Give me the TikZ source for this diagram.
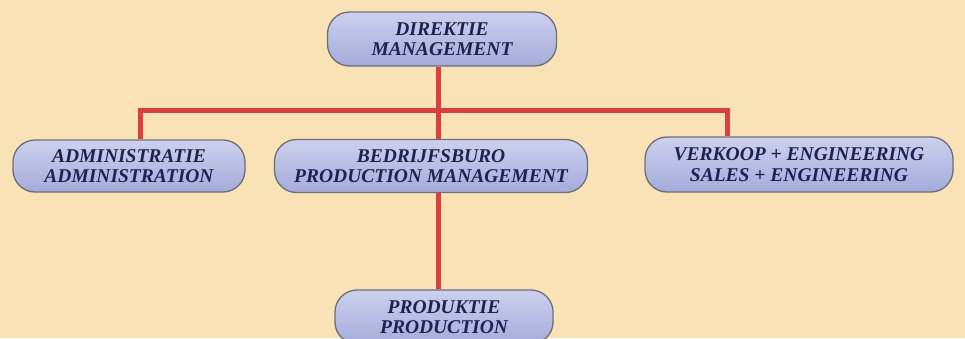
\documentclass[tikz,border=0pt]{standalone}
\usepackage{fontspec}
\setmainfont{Liberation Serif}
\usetikzlibrary{backgrounds}
\definecolor{bgc}{HTML}{F9E3B6}
\definecolor{boxtop}{HTML}{CDD1EE}
\definecolor{boxbot}{HTML}{A3ABD9}
\definecolor{boxline}{HTML}{6E6E78}
\definecolor{txt}{HTML}{1E2250}
\definecolor{redl}{HTML}{D9403F}
\tikzset{
  orgbox/.style={draw=boxline, line width=1.3pt, rounded corners=22pt,
    top color=boxtop, bottom color=boxbot, text=txt, align=center,
    inner sep=0pt, font=\fontsize{19.5}{20.5}\selectfont\bfseries\itshape},
  redline/.style={draw=redl, line width=5pt}
}
\begin{document}
\begin{tikzpicture}[x=1pt,y=-1pt]
\useasboundingbox (0,0) rectangle (965,338);
\node[orgbox, minimum width=229pt, minimum height=54pt] (dir) at (442,39) {DIREKTIE\\MANAGEMENT};
\node[orgbox, minimum width=232pt, minimum height=52pt] (adm) at (129,166) {ADMINISTRATIE\\ADMINISTRATION};
\node[orgbox, minimum width=313pt, minimum height=53pt] (bed) at (431,166) {BEDRIJFSBURO\\PRODUCTION MANAGEMENT};
\node[orgbox, minimum width=308pt, minimum height=55pt] (ver) at (799,164.5) {VERKOOP + ENGINEERING\\SALES + ENGINEERING};
\node[orgbox, minimum width=218pt, minimum height=54pt] (prod) at (444,317) {PRODUKTIE\\PRODUCTION};
\coordinate (jl) at (140,110);
\coordinate (jm) at (438,110);
\coordinate (jr) at (727,110);
\begin{scope}[on background layer]
\fill[bgc] (0,0) rectangle (965,338);
\draw[redline] (dir.south -| jm) -- (jm);
\draw[redline] ([xshift=-2.5pt]jl) -- ([xshift=2.5pt]jr);
\draw[redline] (jl) -- (jl |- adm.north);
\draw[redline] (jr) -- (jr |- ver.north);
\draw[redline] (jm) -- (jm |- bed.north);
\draw[redline] (jm |- bed.south) -- (jm |- prod.north);
\end{scope}
\end{tikzpicture}
\end{document}
